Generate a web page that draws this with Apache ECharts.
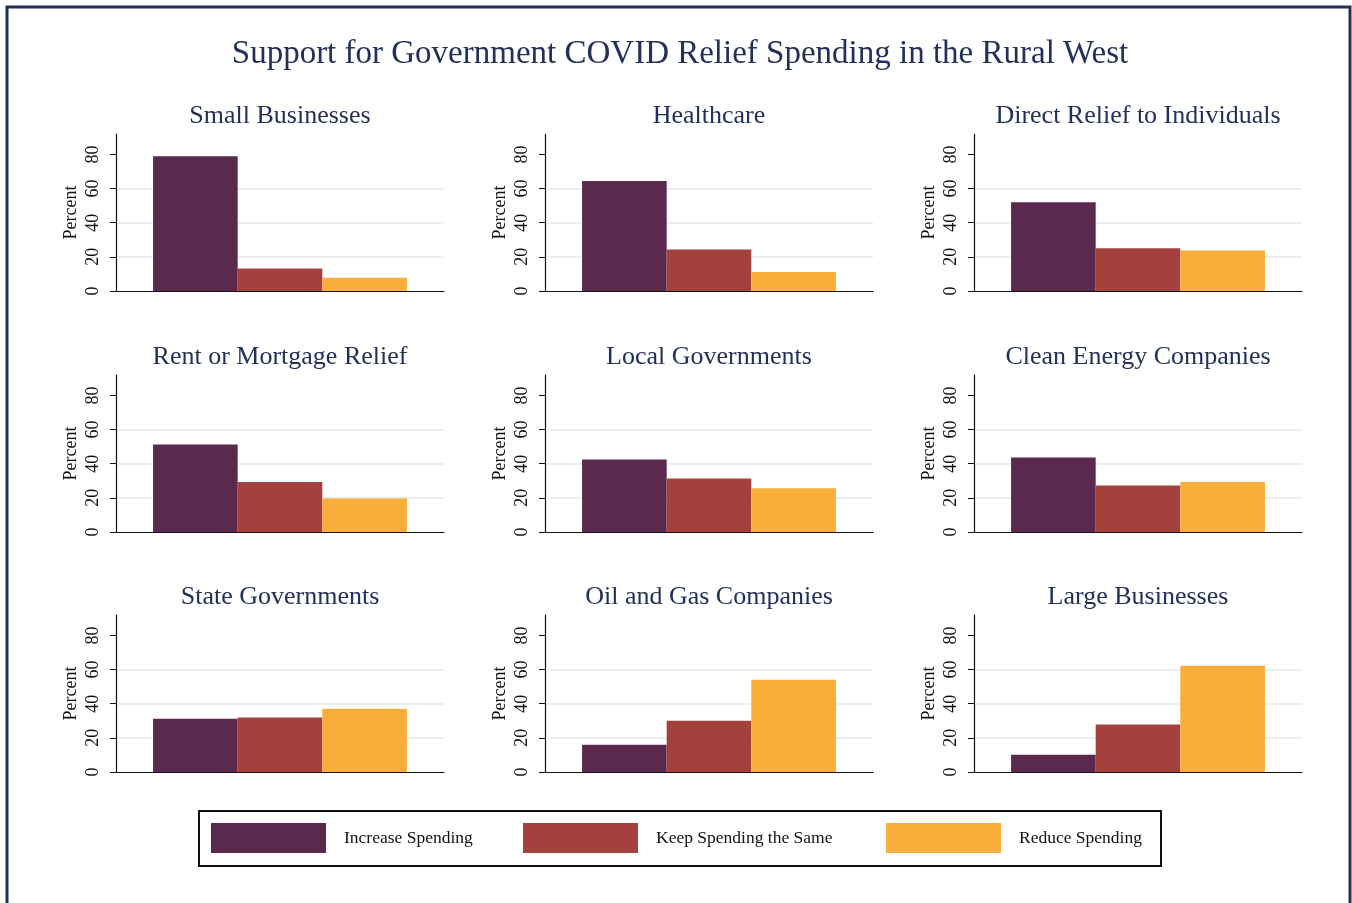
<!DOCTYPE html>
<html>
<head>
<meta charset="utf-8">
<script src="https://cdn.jsdelivr.net/npm/echarts@6/dist/echarts.min.js"></script>
<style>
  html, body { margin: 0; padding: 0; background: #fff; }
  #chart { width: 1352px; height: 903px; }
</style>
</head>
<body>
<div id="chart"></div>
<script>
const panels = ['Small Businesses', 'Healthcare', 'Direct Relief to Individuals',
  'Rent or Mortgage Relief', 'Local Governments', 'Clean Energy Companies',
  'State Governments', 'Oil and Gas Companies', 'Large Businesses'];
const seriesNames = ['Increase Spending', 'Keep Spending the Same', 'Reduce Spending'];
const increase = [79, 64.5, 52, 51.3, 42.5, 43.7, 31.2, 16, 10.1];
const keepSame = [13.2, 24.3, 25, 29.3, 31.4, 27.3, 32, 30, 27.8];
const reduce = [7.7, 11.2, 23.8, 19.7, 25.6, 29.3, 37, 54, 62.2];
const yTicks = [0, 20, 40, 60, 80];

const colors = ['#5c294e', '#a4413c', '#f9ae3c'];
const font = 'Liberation Serif';
const navy = '#22305a';

const colLeft = [116, 545, 974];
const rowTop = [134, 375, 615];
const gridW = 328, gridH = 157;

const values = [increase, keepSame, reduce];

const grids = [], xAxes = [], yAxes = [], series = [];
const titles = [{
  text: 'Support for Government COVID Relief Spending in the Rural West',
  left: 675, top: 33, textAlign: 'center',
  textStyle: { fontFamily: font, fontSize: 33, fontWeight: 'normal', color: navy }
}];

panels.forEach((name, i) => {
  const left = colLeft[i % 3], top = rowTop[Math.floor(i / 3)];
  grids.push({ left: left, top: top, width: gridW, height: gridH });
  titles.push({
    text: name, left: left + gridW / 2 - 5, top: top - 36, textAlign: 'center',
    textStyle: { fontFamily: font, fontSize: 26, fontWeight: 'normal', color: navy }
  });
  xAxes.push({
    type: 'category', gridIndex: i, data: [''],
    axisLine: { lineStyle: { color: '#111', width: 1.2 } },
    axisTick: { show: false }, axisLabel: { show: false }
  });
  yAxes.push({
    type: 'value', gridIndex: i, min: 0, max: 92, interval: 20,
    name: 'Percent', nameLocation: 'middle', nameGap: 36, nameRotate: 90,
    nameTextStyle: { fontFamily: font, fontSize: 18, color: '#111' },
    axisLine: { show: true, lineStyle: { color: '#111', width: 1.2 } },
    axisTick: { show: true, length: 6, customValues: yTicks, lineStyle: { color: '#111' } },
    axisLabel: { rotate: 90, margin: 14, customValues: yTicks, fontFamily: font, fontSize: 18, color: '#111' },
    splitLine: { show: true, showMinLine: false, showMaxLine: false, lineStyle: { color: '#e9f0f4', width: 2 } }
  });
  seriesNames.forEach((s, k) => {
    series.push({
      type: 'bar', name: s, xAxisIndex: i, yAxisIndex: i,
      data: [values[k][i]],
      barGap: '0%', barCategoryGap: '22.6%',
      itemStyle: { color: colors[k] },
      emphasis: { disabled: true }
    });
  });
});

const legendLefts = [211, 523, 886];
const legends = seriesNames.map((s, k) => ({
  data: [s], left: legendLefts[k], top: 823, padding: 0,
  itemWidth: 115, itemHeight: 30, icon: 'rect', selectedMode: false,
  textStyle: { fontFamily: font, fontSize: 17.5, color: '#111', padding: [0, 0, 0, 13] }
}));

const chart = echarts.init(document.getElementById('chart'), null, { renderer: 'canvas' });
chart.setOption({
  backgroundColor: '#fff',
  animation: false,
  title: titles,
  grid: grids,
  xAxis: xAxes,
  yAxis: yAxes,
  legend: legends,
  series: series,
  graphic: [
    { type: 'rect', shape: { x: 7, y: 7, width: 1343, height: 1000 },
      style: { fill: 'none', stroke: navy, lineWidth: 3 }, silent: true },
    { type: 'rect', shape: { x: 199, y: 811, width: 962, height: 55 },
      style: { fill: 'none', stroke: '#111', lineWidth: 2 }, silent: true }
  ]
});
</script>
</body>
</html>
